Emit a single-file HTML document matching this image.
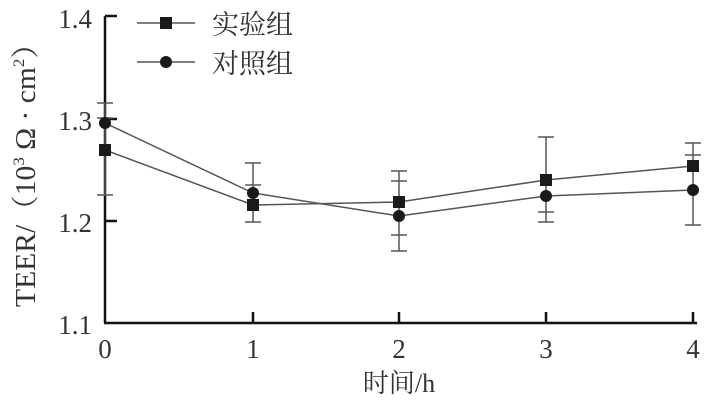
<!DOCTYPE html>
<html><head><meta charset="utf-8"><style>body{margin:0;background:#fff}</style></head><body>
<svg width="704" height="402" xmlns="http://www.w3.org/2000/svg" font-family="Liberation Serif, Noto Serif CJK SC, serif" fill="#333">
<g stroke="#111" stroke-width="2.5">
<line x1="105" y1="16" x2="105" y2="323"/>
<line x1="104" y1="323" x2="697" y2="323"/>
<line x1="105" y1="16" x2="117" y2="16"/>
<line x1="105" y1="119" x2="117" y2="119"/>
<line x1="105" y1="221" x2="117" y2="221"/>
<line x1="253" y1="312" x2="253" y2="323"/>
<line x1="399" y1="312" x2="399" y2="323"/>
<line x1="546" y1="312" x2="546" y2="323"/>
<line x1="693" y1="312" x2="693" y2="323"/>
</g>
<g stroke="#555" stroke-width="1.5">
<polyline fill="none" points="105,150 253,205 399,202 546,180 693,166"/>
<polyline fill="none" points="105,123 253,193 399,216 546,196 693,190"/>
<line x1="105" y1="103" x2="105" y2="196"/><line x1="97" y1="103" x2="113" y2="103"/><line x1="97" y1="118" x2="113" y2="118"/><line x1="97" y1="195" x2="113" y2="195"/>
<line x1="253" y1="163" x2="253" y2="222"/><line x1="245" y1="163" x2="261" y2="163"/><line x1="245" y1="185" x2="261" y2="185"/><line x1="245" y1="222" x2="261" y2="222"/>
<line x1="399" y1="171" x2="399" y2="251"/><line x1="391" y1="171" x2="407" y2="171"/><line x1="391" y1="181" x2="407" y2="181"/><line x1="391" y1="235" x2="407" y2="235"/><line x1="391" y1="251" x2="407" y2="251"/>
<line x1="546" y1="137" x2="546" y2="222"/><line x1="538" y1="137" x2="554" y2="137"/><line x1="538" y1="212" x2="554" y2="212"/><line x1="538" y1="222" x2="554" y2="222"/>
<line x1="693" y1="143" x2="693" y2="225"/><line x1="685" y1="143" x2="701" y2="143"/><line x1="685" y1="155" x2="701" y2="155"/><line x1="685" y1="225" x2="701" y2="225"/>
<line x1="137" y1="23" x2="195" y2="23"/><line x1="137" y1="62" x2="195" y2="62"/>
</g>
<g fill="#1a1a1a">
<rect x="99" y="144" width="12" height="12"/><rect x="247" y="199" width="12" height="12"/><rect x="393" y="196" width="12" height="12"/><rect x="540" y="174" width="12" height="12"/><rect x="687" y="160" width="12" height="12"/>
<circle cx="105" cy="123" r="6"/><circle cx="253" cy="193" r="6"/><circle cx="399" cy="216" r="6"/><circle cx="546" cy="196" r="6"/><circle cx="693" cy="190" r="6"/>
<rect x="160" y="17" width="12" height="12"/><circle cx="166" cy="62" r="6"/>
</g>
<g font-size="27">
<text x="92" y="28" text-anchor="end">1.4</text>
<text x="92" y="130" text-anchor="end">1.3</text>
<text x="92" y="232" text-anchor="end">1.2</text>
<text x="92" y="334" text-anchor="end">1.1</text>
<text x="105" y="358" text-anchor="middle">0</text>
<text x="253" y="358" text-anchor="middle">1</text>
<text x="399" y="358" text-anchor="middle">2</text>
<text x="546" y="358" text-anchor="middle">3</text>
<text x="693" y="358" text-anchor="middle">4</text>
<text x="399" y="392" text-anchor="middle" font-size="26">时间/h</text>
<text x="212" y="34">实验组</text>
<text x="212" y="73">对照组</text>
<text transform="translate(35,168) rotate(-90)" text-anchor="middle" font-size="28" textLength="278" lengthAdjust="spacingAndGlyphs">TEER/（10<tspan font-size="16" dy="-11">3</tspan><tspan dy="11"> Ω · cm</tspan><tspan font-size="16" dy="-11">2</tspan><tspan dy="11">）</tspan></text>
</g>
</svg>
</body></html>
